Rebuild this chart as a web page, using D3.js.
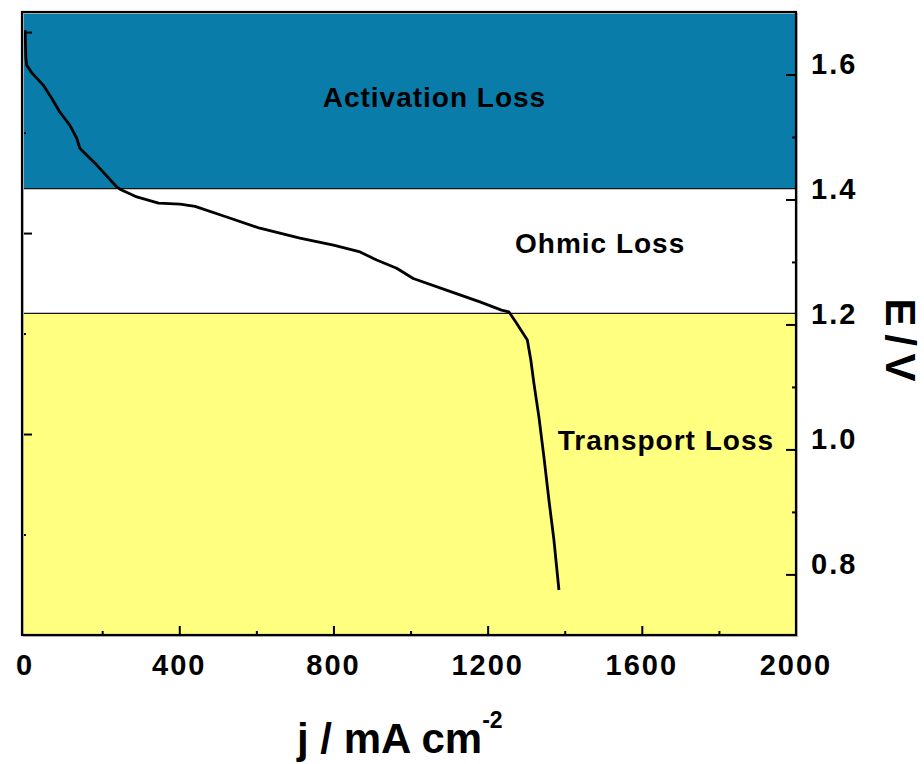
<!DOCTYPE html>
<meta charset="utf-8">
<style>
body { margin: 0; background: #fff; }
text { font-family: "Liberation Sans", Arial, sans-serif; font-weight: bold; fill: #000; }
.tick-label { font-size: 29px; letter-spacing: 2px; }
.band-label { font-size: 28px; letter-spacing: 1px; }
.title { font-size: 42px; }
.curve { fill: none; stroke: #000; stroke-width: 2.8px; stroke-linejoin: round; }
</style>
<svg width="924" height="764"></svg>
<script src="https://d3js.org/d3.v7.min.js"></script>
<script>

// polarization curve
var jVals = [0, 1, 2, 4, 17, 47, 69, 90, 116, 134, 142, 186, 238, 246, 290, 346, 402, 441, 523, 609, 713, 800, 869, 912, 964, 1007, 1093, 1180, 1236, 1255, 1273, 1303, 1312, 1320, 1333, 1346, 1359, 1372, 1385];
var eVals = [1.671, 1.650, 1.626, 1.615, 1.603, 1.583, 1.562, 1.540, 1.519, 1.498, 1.482, 1.455, 1.420, 1.4165, 1.404, 1.394, 1.3925, 1.389, 1.372, 1.354, 1.338, 1.327, 1.316, 1.303, 1.290, 1.2736, 1.255, 1.236, 1.223, 1.2202, 1.204, 1.175, 1.143, 1.106, 1.052, 0.988, 0.919, 0.855, 0.775];

// loss regions (E limits)
var bandNames = ["Activation Loss", "Ohmic Loss", "Transport Loss"];
var bandTop = [1.70, 1.4175, 1.2176];
var bandBottom = [1.4175, 1.2176, 0.703];
var bandColors = ["#0a7caa", "#ffffff", "#ffff80"];
// label anchor (j, E) for each region
var labelJ = [772, 1271, 1382];
var labelE = [1.5477, 1.3149, 0.999];

var xTicks = [0, 400, 800, 1200, 1600, 2000];
var xMinor = [200, 600, 1000, 1400, 1800];
var yTicks = [0.8, 1.0, 1.2, 1.4, 1.6];
var yMinor = [0.9, 1.1, 1.3, 1.5];
var leftTicks = [0.2, 0.4, 0.6];
var leftMinor = [0.1, 0.3, 0.5];

var svg = d3.select("svg");
var pLeft = 22, pRight = 796, pTop = 12, pBottom = 635;

var x = d3.scaleLinear().domain([-8, 2000]).range([pLeft, pRight]);
var y = d3.scaleLinear().domain([0.703, 1.70]).range([pBottom, pTop]);
var yLeft = d3.scaleLinear().domain([0, 0.62]).range([pBottom, pTop]);

// bands
svg.selectAll(".band")
  .data(bandNames)
  .enter().append("rect")
  .attr("x", pLeft)
  .attr("width", pRight - pLeft)
  .attr("y", function(d, i) { return y(bandTop[i]); })
  .attr("height", function(d, i) { return y(bandBottom[i]) - y(bandTop[i]); })
  .attr("fill", function(d, i) { return bandColors[i]; });

// boundary lines between bands
svg.selectAll(".edge")
  .data([bandBottom[0], bandBottom[1]])
  .enter().append("line")
  .attr("x1", pLeft).attr("x2", pRight)
  .attr("y1", function(d) { return y(d); })
  .attr("y2", function(d) { return y(d); })
  .attr("stroke", "#111").attr("stroke-width", 1.2);

svg.selectAll(".band-label")
  .data(bandNames)
  .enter().append("text")
  .attr("class", "band-label")
  .attr("x", function(d, i) { return x(labelJ[i]); })
  .attr("y", function(d, i) { return y(labelE[i]); })
  .text(function(d) { return d; });

// curve
var line = d3.line()
  .x(function(d, i) { return x(jVals[i]); })
  .y(function(d, i) { return y(eVals[i]); });

svg.append("path")
  .datum(jVals)
  .attr("class", "curve")
  .attr("d", line);

// axes with inward ticks
function styleAxis(g) {
  g.select(".domain").remove();
  g.selectAll(".tick line").attr("stroke", "#000").attr("stroke-width", 2);
  g.selectAll(".tick text").remove();
}

svg.append("g")
  .attr("transform", "translate(0," + pBottom + ")")
  .call(d3.axisTop(x).tickValues(xTicks.slice(1, -1)).tickSize(9))
  .call(styleAxis);
svg.append("g")
  .attr("transform", "translate(0," + pBottom + ")")
  .call(d3.axisTop(x).tickValues(xMinor).tickSize(4))
  .call(styleAxis);

svg.append("g")
  .attr("transform", "translate(" + pRight + ",0)")
  .call(d3.axisLeft(y).tickValues(yTicks).tickSize(10))
  .call(styleAxis);
svg.append("g")
  .attr("transform", "translate(" + pRight + ",0)")
  .call(d3.axisLeft(y).tickValues(yMinor).tickSize(4))
  .call(styleAxis);

svg.append("g")
  .attr("transform", "translate(" + pLeft + ",0)")
  .call(d3.axisRight(yLeft).tickValues(leftTicks).tickSize(10))
  .call(styleAxis);
svg.append("g")
  .attr("transform", "translate(" + pLeft + ",0)")
  .call(d3.axisRight(yLeft).tickValues(leftMinor).tickSize(4))
  .call(styleAxis);

// frame
svg.append("rect")
  .attr("x", pLeft + 1.5).attr("y", pTop + 1.5)
  .attr("width", pRight - pLeft).attr("height", pBottom - pTop)
  .attr("fill", "none").attr("stroke", "#bbb").attr("stroke-width", 1);
svg.append("rect")
  .attr("x", pLeft).attr("y", pTop)
  .attr("width", pRight - pLeft).attr("height", pBottom - pTop)
  .attr("fill", "none").attr("stroke", "#000").attr("stroke-width", 2.2);

// tick labels
svg.selectAll(".xlab")
  .data(xTicks)
  .enter().append("text")
  .attr("class", "tick-label")
  .attr("text-anchor", "middle")
  .attr("x", function(d) { return x(d); })
  .attr("y", 675)
  .text(function(d) { return d; });

svg.selectAll(".ylab")
  .data(yTicks)
  .enter().append("text")
  .attr("class", "tick-label")
  .attr("x", pRight + 15)
  .attr("y", function(d) { return y(d); })
  .text(function(d) { return d.toFixed(1); });

// titles
var xt = svg.append("text")
  .attr("class", "title")
  .attr("x", 297)
  .attr("y", 753);
xt.append("tspan").text("j / mA cm");
xt.append("tspan").attr("dy", -25).attr("font-size", 23).text("-2");

svg.append("text")
  .attr("class", "title")
  .attr("text-anchor", "middle")
  .attr("word-spacing", "-4px")
  .attr("transform", "translate(886,340) rotate(90)")
  .text("E / V");

</script>
